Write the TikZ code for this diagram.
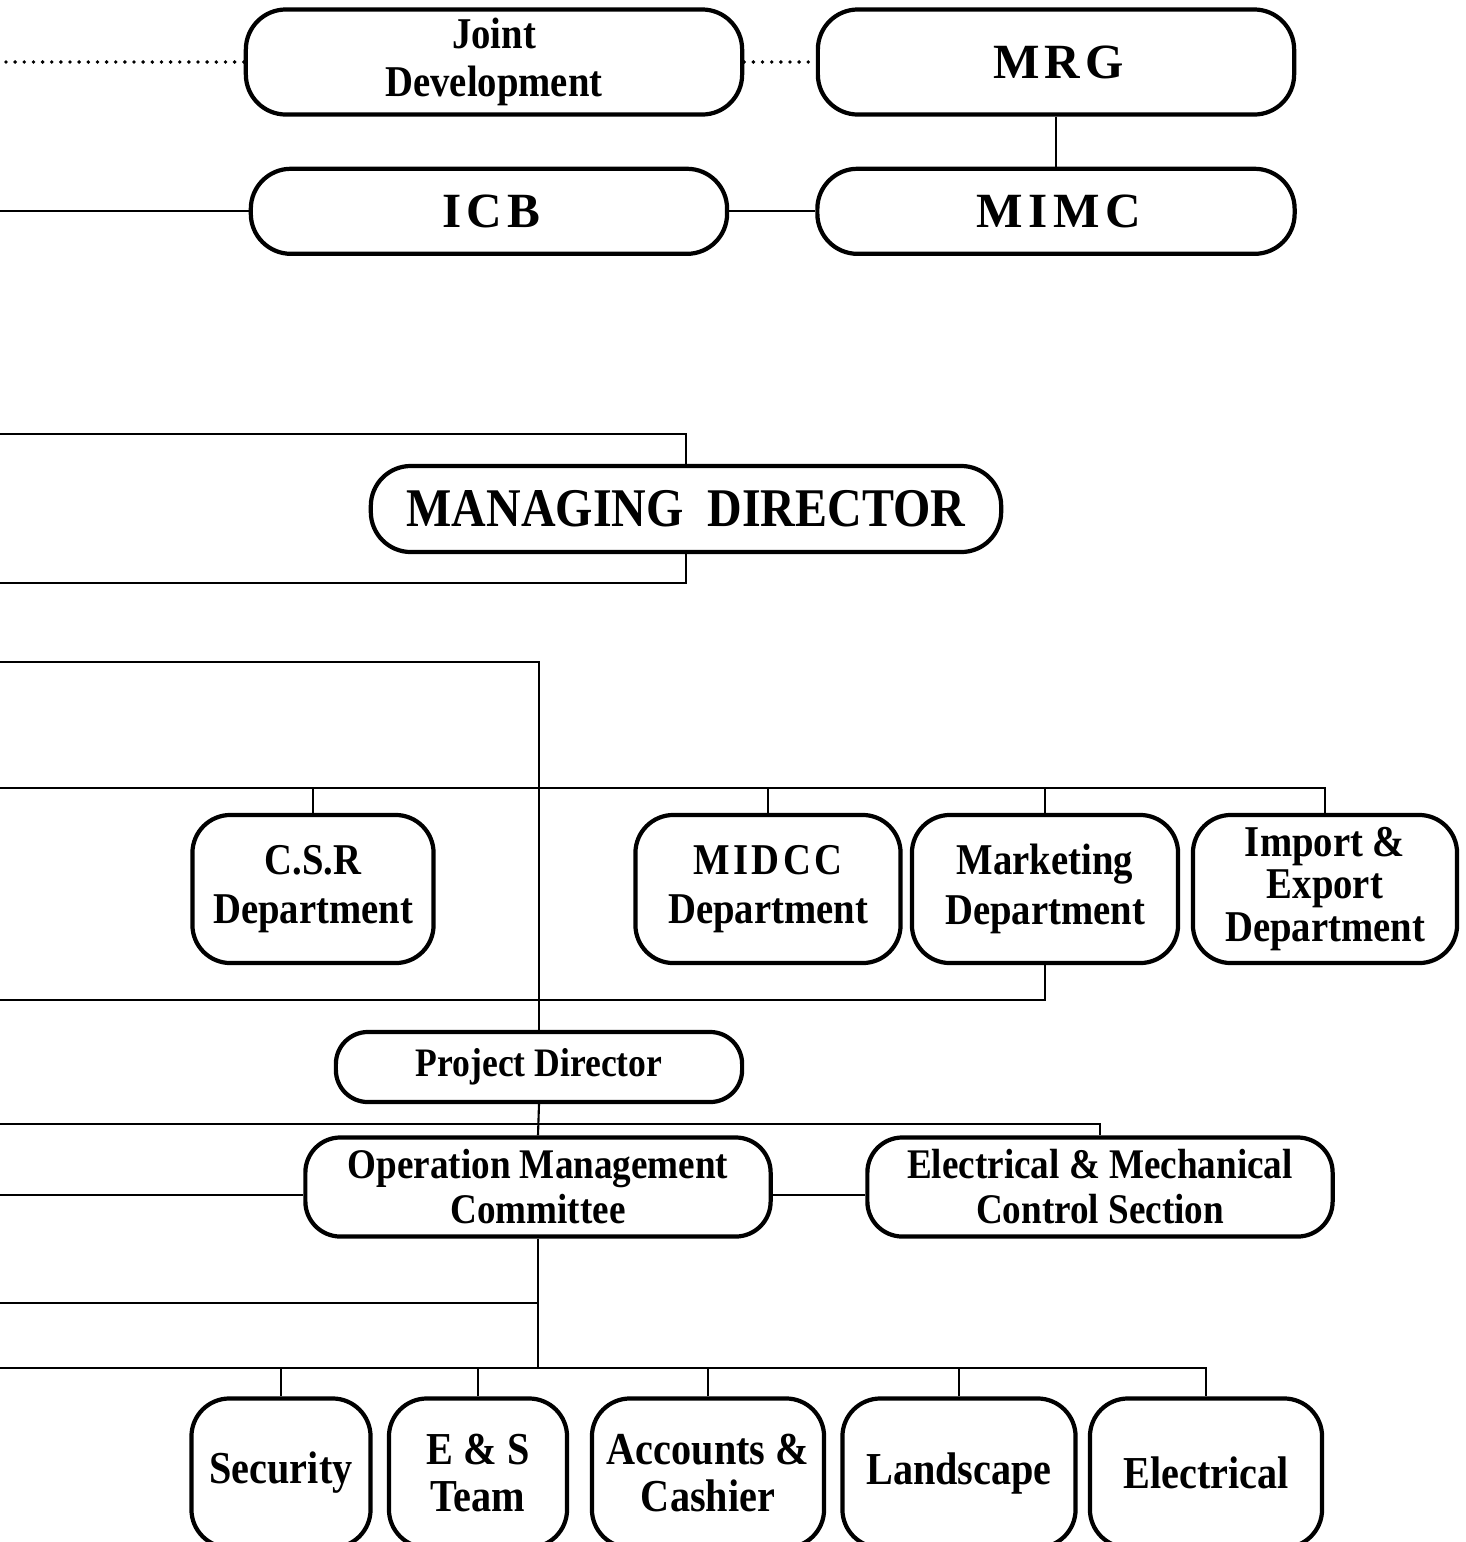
\documentclass[tikz,border=0pt]{standalone}
\usepackage{fontspec}
\newfontfamily\chartfont{Liberation Serif}[FakeStretch=0.88]
\newfontfamily\widefont{Liberation Serif}[LetterSpace=11]
\usetikzlibrary{positioning}

\begin{document}
\begin{tikzpicture}[x=0.01cm,y=-0.01cm]
\tikzstyle{pill}=[draw,line width=1.2pt,rounded corners=0.4cm,inner sep=0pt,align=center,font=\chartfont\bfseries\fontsize{12.5}{13.6}\selectfont]
\tikzstyle{spaced}=[font=\widefont\bfseries\fontsize{14}{16}\selectfont]
\tikzstyle{deptbox}=[draw,line width=1.2pt,rounded corners=0.38cm,inner sep=0pt,align=center,minimum height=1.48cm,font=\chartfont\bfseries\fontsize{12.5}{14}\selectfont]
\tikzstyle{unitbox}=[deptbox,minimum height=1.49cm,font=\chartfont\bfseries\fontsize{13}{13.4}\selectfont]
\tikzstyle{link}=[line width=0.6pt]
\tikzstyle{dotline}=[line width=1.1pt,line cap=round,dash pattern=on 0pt off 2.6pt]
\useasboundingbox (0,0) rectangle (1465,1542);
\coordinate (edge) at (0,0);
\coordinate (mdtop) at (0,434);
\coordinate (mdlow) at (0,583);
\coordinate (pdtop) at (0,662);
\coordinate (deptbus) at (0,788);
\coordinate (mktlow) at (0,1000);
\coordinate (pdbus) at (0,1124);
\coordinate (omcmid) at (0,1195);
\coordinate (omclow) at (0,1303);
\coordinate (unitbus) at (0,1368);

\node[pill,spaced,minimum width=4.76cm,minimum height=1.05cm] (mrg) at (1056,62) {\kern1.5pt MRG};
\node[pill,spaced,minimum width=4.77cm,minimum height=0.85cm,below=0.5cm of mrg] (mimc) {\kern1.5pt MIMC};
\node[pill,spaced,minimum width=4.76cm,minimum height=0.85cm,left=0.86cm of mimc] (icb) {\kern1.5pt ICB};
\node[pill,minimum width=4.96cm,minimum height=1.05cm] (joint) at (494,62) {Joint\\Development};
\node[pill,minimum width=6.3cm,minimum height=0.86cm,font=\chartfont\bfseries\fontsize{15.5}{17}\selectfont] (md) at (686,509) {MANAGING\ \ DIRECTOR};

\node[deptbox,minimum width=2.41cm] (csr) at (313,889) {C.S.R\\Department};
\node[deptbox,minimum width=2.65cm] (midcc) at (768,889) {{\addfontfeature{LetterSpace=8}MIDCC}\\Department};
\node[deptbox,minimum width=2.66cm] (mkt) at (1045,889) {Marketing\\Department};
\node[deptbox,minimum width=2.64cm,font=\chartfont\bfseries\fontsize{12.5}{12.2}\selectfont] (imex) at (1325,889) {Import \&\\Export\\Department};

\node[pill,minimum width=4.06cm,minimum height=0.7cm,rounded corners=0.32cm,font=\chartfont\bfseries\fontsize{11.5}{13}\selectfont] (pd) at (539,1067) {Project Director};
\node[deptbox,minimum width=4.65cm,minimum height=0.99cm,rounded corners=0.35cm,font=\chartfont\bfseries\fontsize{12}{12.8}\selectfont] (omc) at (538,1187) {Operation Management\\Committee};
\node[deptbox,minimum width=4.65cm,minimum height=0.99cm,rounded corners=0.35cm,font=\chartfont\bfseries\fontsize{12}{12.8}\selectfont] (emcs) at (1100,1187) {Electrical \& Mechanical\\Control Section};

\node[unitbox,minimum width=1.79cm] (sec) at (281,1473) {Security};
\node[unitbox,minimum width=1.78cm] (es) at (478,1473) {E \& S\\Team};
\node[unitbox,minimum width=2.32cm] (acc) at (708,1473) {Accounts \&\\Cashier};
\node[unitbox,minimum width=2.33cm] (land) at (959,1473) {Landscape};
\node[unitbox,minimum width=2.32cm] (elec) at (1206,1473) {Electrical};

\draw[dotline] (joint.west) -- (joint.west -| edge);
\draw[dotline] (joint.east) -- (mrg.west);
\draw[link] (mrg.south) -- (mimc.north);
\draw[link] (icb.west) -- (icb.west -| edge);
\draw[link] (icb.east) -- (mimc.west);
\draw[link] (md.north) |- (mdtop);
\draw[link] (md.south) |- (mdlow);
\draw[link] (pd.north) |- (pdtop);
\draw[link] (deptbus) -| (imex.north);
\foreach \n in {csr,midcc,mkt}
  \draw[link] (\n.north) -- (\n.north |- deptbus);
\draw[link] (mkt.south) |- (mktlow);
\draw[link] (pdbus) -| (emcs.north);
\draw[link] (pd.south) -- (omc.north);
\draw[link] (omcmid) -- (omcmid -| omc.west);
\draw[link] (omcmid -| omc.east) -- (omcmid -| emcs.west);
\draw[link] (omc.south) |- (omclow);
\draw[link] (omc.south) -- (omc.south |- unitbus);
\draw[link] (unitbus) -| (elec.north);
\foreach \n in {sec,es,acc,land}
  \draw[link] (\n.north) -- (\n.north |- unitbus);
\end{tikzpicture}
\end{document}
